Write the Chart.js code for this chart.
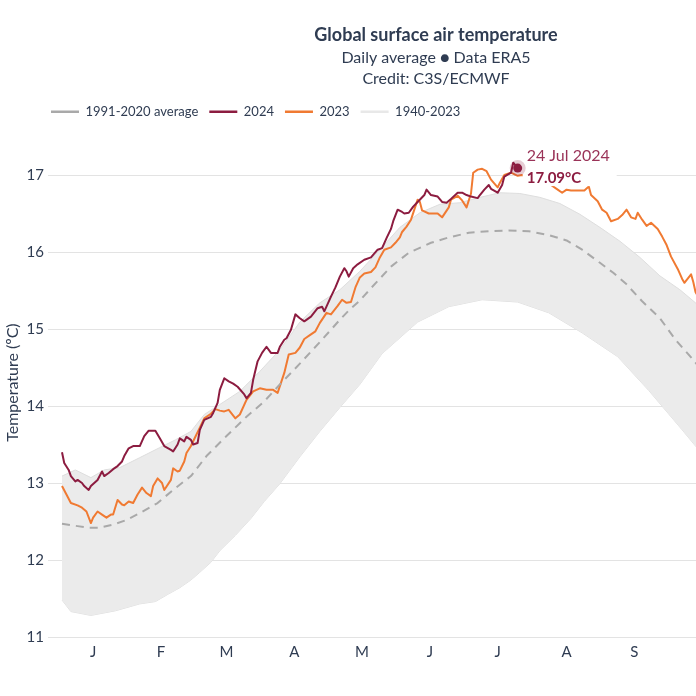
<!DOCTYPE html>
<html lang="en">
<head>
<meta charset="UTF-8">
<title>Global surface air temperature</title>
<script src="https://cdn.jsdelivr.net/npm/chart.js"></script>
<style>
  html, body { margin: 0; padding: 0; background: #fff; overflow: hidden; }
  .chart-box { width: 872px; height: 696px; }
</style>
</head>
<body>
<div class="chart-box"><canvas id="tempChart" width="872" height="696"></canvas></div>

<script>
// day of year (1 = 1 Jan) and temperature in ºC
const days2024 = [1,2,4,5,7,8,10,11,13,14, 17,19,20,22,24,26,28,29,31,33,
  36,38,40,43,45,47,50,51,53,54, 56,57,59,60,62,63,65,68,69,71,
  72,74,76,78,80,83,84,86,87,89, 91,93,95,98,99,101,102,104,106,108,
  110,113,116,118,119,122,124,126,128,129, 130,132,134,137,140,143,145,147,149,150,
  152,154,155,157,159,161,164,165,167,170, 172,174,176,179,181,183,185,188,189,191,
  193,194,197,199,200,203,204,206];
const temp2024 = [13.40,13.26,13.17,13.09,13.02,13.04,13.00,12.96,12.91,12.96,
  13.04,13.15,13.09,13.13,13.18,13.22,13.28,13.35,13.45,13.48,
  13.48,13.61,13.68,13.68,13.58,13.48,13.43,13.41,13.50,13.58,
  13.54,13.60,13.56,13.50,13.52,13.69,13.82,13.86,13.91,14.04,
  14.21,14.36,14.32,14.29,14.25,14.15,14.10,14.17,14.34,14.58,
  14.69,14.77,14.69,14.69,14.77,14.86,14.88,14.99,15.19,15.14,
  15.10,15.16,15.27,15.29,15.23,15.42,15.54,15.68,15.79,15.75,
  15.68,15.79,15.84,15.90,15.93,16.03,16.05,16.18,16.30,16.40,
  16.55,16.52,16.50,16.51,16.59,16.65,16.74,16.81,16.74,16.72,
  16.65,16.64,16.69,16.77,16.77,16.74,16.72,16.70,16.74,16.81,
  16.87,16.82,16.77,16.87,16.98,17.03,17.16,17.09];

const days2023 = [1,3,5,8,10,12,14,15,17,19, 21,23,24,26,28,29,31,33,35,37,
  39,41,42,44,46,47,50,51,53,54, 56,57,59,61,63,65,68,70,72,74,
  76,79,81,84,87,90,93,96,98,101, 103,106,108,110,113,115,117,120,122,125,
  127,129,131,133,135,137,140,142,144,146, 149,151,153,154,156,158,161,162,163,166,
  168,170,172,175,176,179,181,183,185,186, 188,190,192,194,197,198,200,203,206,208,
  221,224,226,228,230,233,236,238,239,242, 244,246,248,251,253,255,257,259,260,262,
  264,266,269,271,273,275,278,280,281,284, 285,286,288];
const temp2023 = [12.96,12.85,12.74,12.71,12.68,12.63,12.48,12.55,12.63,12.59,
  12.55,12.59,12.59,12.78,12.72,12.71,12.76,12.74,12.85,12.94,
  12.87,12.83,12.96,13.06,13.00,12.91,13.04,13.19,13.15,13.16,
  13.28,13.39,13.48,13.60,13.72,13.84,13.90,13.96,13.94,13.93,
  13.95,13.84,13.89,14.08,14.19,14.23,14.21,14.21,14.17,14.43,
  14.67,14.69,14.76,14.87,14.93,14.97,15.08,15.21,15.19,15.30,
  15.38,15.34,15.35,15.54,15.67,15.72,15.74,15.80,15.93,16.03,
  16.06,16.12,16.19,16.26,16.33,16.42,16.68,16.65,16.54,16.50,
  16.50,16.50,16.45,16.58,16.68,16.73,16.67,16.58,16.76,17.03,
  17.07,17.08,17.05,16.94,16.84,16.90,17.00,17.03,16.99,17.00,
  16.87,16.81,16.77,16.81,16.80,16.80,16.80,16.85,16.74,16.66,
  16.55,16.51,16.40,16.43,16.48,16.55,16.45,16.43,16.51,16.42,
  16.34,16.38,16.30,16.20,16.09,15.94,15.78,15.65,15.60,15.71,
  15.61,15.48,15.38];

const daysAvg = [1,8,13,18,24,30,36,44,51,59, 66,75,84,92,99,108,117,126,130,135,
  140,149,157,167,175,184,193,202,211,220, 228,235,243,249,255,262,270,277,285,292];
const tempAvg = [12.47,12.44,12.42,12.42,12.46,12.52,12.61,12.74,12.91,13.09,
  13.35,13.61,13.86,14.06,14.28,14.55,14.83,15.12,15.24,15.37,
  15.53,15.81,15.99,16.12,16.19,16.25,16.27,16.28,16.27,16.22,
  16.15,16.03,15.86,15.73,15.58,15.36,15.14,14.86,14.60,14.34];

// upper and lower edge of the 1940-2023 bundle
const daysHigh = [1,7,14,20,27,36,45,52,59,65, 72,81,90,99,108,117,126,135,144,153,
  162,171,180,189,198,207,216,225,234,243, 252,261,270,279,286,292];
const tempHigh = [13.09,13.17,13.07,13.17,13.20,13.33,13.46,13.56,13.67,13.89,
  14.02,14.19,14.45,14.73,15.09,15.34,15.51,15.75,16.03,16.32,
  16.51,16.62,16.64,16.71,16.77,16.76,16.71,16.63,16.49,16.32,
  16.14,15.93,15.69,15.51,15.34,15.19];
const daysLow = [1,5,14,25,36,43,49,54,59,63, 68,72,79,86,92,99,108,117,126,135,
  145,161,175,190,206,220,235,251,265,280, 286,292];
const tempLow = [11.48,11.33,11.28,11.34,11.43,11.46,11.56,11.64,11.74,11.84,
  11.97,12.12,12.32,12.54,12.76,12.99,13.34,13.67,13.98,14.28,
  14.68,15.09,15.29,15.38,15.35,15.21,14.95,14.64,14.20,13.69,
  13.48,13.30];

// axis ticks
const tickDays = [15, 45.5, 75, 105.5, 136, 166.5, 197, 228, 258.5, 289, 319.5, 350];
const monthLetters = ['J','F','M','A','M','J','J','A','S','O','N','D'];
const yTicks = [11, 12, 13, 14, 15, 16, 17];

const textColor = '#2f3c52';
const red2024 = '#8c1c40';
const orange2023 = '#f07a32';

function toPoints(days, temps) {
  return days.map((d, i) => ({ x: d, y: temps[i] }));
}

// legend sits a bit in from the left edge
const legendShift = {
  id: 'legendShift',
  afterLayout(chart) {
    chart.legend.left += 40;
    chart.legend.right += 40;
  }
};

// marker + label for the last 2024 value
const peakLabel = {
  id: 'peakLabel',
  afterDatasetsDraw(chart) {
    const { ctx, scales: { x, y } } = chart;
    const day = days2024[days2024.length - 1];
    const temp = temp2024[temp2024.length - 1];
    const px = x.getPixelForValue(day);
    const py = y.getPixelForValue(temp);
    ctx.save();
    ctx.fillStyle = '#ffffff';
    ctx.fillRect(px + 5, py - 26, 94, 44);
    ctx.beginPath();
    ctx.arc(px, py, 8, 0, Math.PI * 2);
    ctx.fillStyle = 'rgba(140, 28, 64, 0.22)';
    ctx.fill();
    ctx.beginPath();
    ctx.arc(px, py, 4.5, 0, Math.PI * 2);
    ctx.fillStyle = red2024;
    ctx.fill();
    ctx.textBaseline = 'middle';
    ctx.textAlign = 'left';
    ctx.fillStyle = '#9a3358';
    ctx.font = '16px Lato';
    ctx.fillText('24 Jul 2024', px + 9, py - 12);
    ctx.fillStyle = red2024;
    ctx.font = 'bold 15px Lato';
    ctx.fillText(temp.toFixed(2) + '°C', px + 9, py + 10);
    ctx.restore();
  }
};

Chart.defaults.font.family = 'Lato, sans-serif';
Chart.defaults.color = textColor;

const ctx = document.getElementById('tempChart').getContext('2d');
const tempChart = new Chart(ctx, {
  type: 'line',
  data: {
    datasets: [
      {
        label: '1991-2020 average',
        data: toPoints(daysAvg, tempAvg),
        borderColor: '#a9a9a9',
        borderWidth: 2,
        borderDash: [8, 6]
      },
      {
        label: '2024',
        data: toPoints(days2024, temp2024),
        borderColor: red2024,
        borderWidth: 2
      },
      {
        label: '2023',
        data: toPoints(days2023, temp2023),
        borderColor: orange2023,
        borderWidth: 2
      },
      {
        label: '1940-2023',
        data: toPoints(daysHigh, tempHigh),
        borderColor: '#dedede',
        backgroundColor: '#ebebeb',
        borderWidth: 1,
        fill: '+1'
      },
      {
        label: 'low',
        data: toPoints(daysLow, tempLow),
        borderColor: '#dedede',
        borderWidth: 1
      }
    ]
  },
  options: {
    responsive: false,
    animation: false,
    events: [],
    layout: { padding: { left: 0, right: 0, top: 0, bottom: 37 } },
    elements: {
      point: { radius: 0 },
      line: { tension: 0, borderJoinStyle: 'round' }
    },
    plugins: {
      title: {
        display: true,
        text: 'Global surface air temperature',
        color: textColor,
        font: { size: 18, weight: 'bold' },
        padding: { top: 24, bottom: 2 }
      },
      subtitle: {
        display: true,
        text: ['Daily average \u25CF Data ERA5', 'Credit: C3S/ECMWF'],
        color: textColor,
        font: { size: 16, lineHeight: 1.3 },
        padding: { top: 0, bottom: 5 }
      },
      legend: {
        display: true,
        align: 'start',
        labels: {
          usePointStyle: true,
          pointStyle: 'line',
          pointStyleWidth: 28,
          padding: 11,
          color: textColor,
          font: { size: 13 },
          filter: item => item.datasetIndex !== 4,
          generateLabels(chart) {
            const items = Chart.defaults.plugins.legend.labels.generateLabels(chart);
            items.forEach(item => {
              item.lineWidth = 2.5;
              if (item.datasetIndex === 3) item.strokeStyle = '#e8e8e8';
            });
            return items;
          }
        }
      },
      tooltip: { enabled: false }
    },
    scales: {
      x: {
        type: 'linear',
        min: -5.3,
        max: 365.4,
        grid: { display: false, drawTicks: false },
        border: { display: false },
        afterBuildTicks: axis => { axis.ticks = tickDays.map(v => ({ value: v })); },
        afterFit: axis => { axis.height = 22; },
        ticks: {
          autoSkip: false,
          maxRotation: 0,
          padding: 6,
          color: textColor,
          font: { size: 15 },
          callback: value => monthLetters[tickDays.indexOf(value)]
        }
      },
      y: {
        min: 11,
        max: 17.608,
        grid: { color: '#e3e3e3', drawTicks: false },
        border: { display: false },
        afterBuildTicks: axis => { axis.ticks = yTicks.map(v => ({ value: v })); },
        afterFit: axis => { axis.width = 48; },
        ticks: {
          padding: 4,
          color: textColor,
          font: { size: 15 }
        },
        title: {
          display: true,
          text: 'Temperature (ºC)',
          color: textColor,
          font: { size: 16 },
          padding: { top: 3, bottom: 0 }
        }
      }
    }
  },
  plugins: [legendShift, peakLabel]
});
</script>
</body>
</html>
